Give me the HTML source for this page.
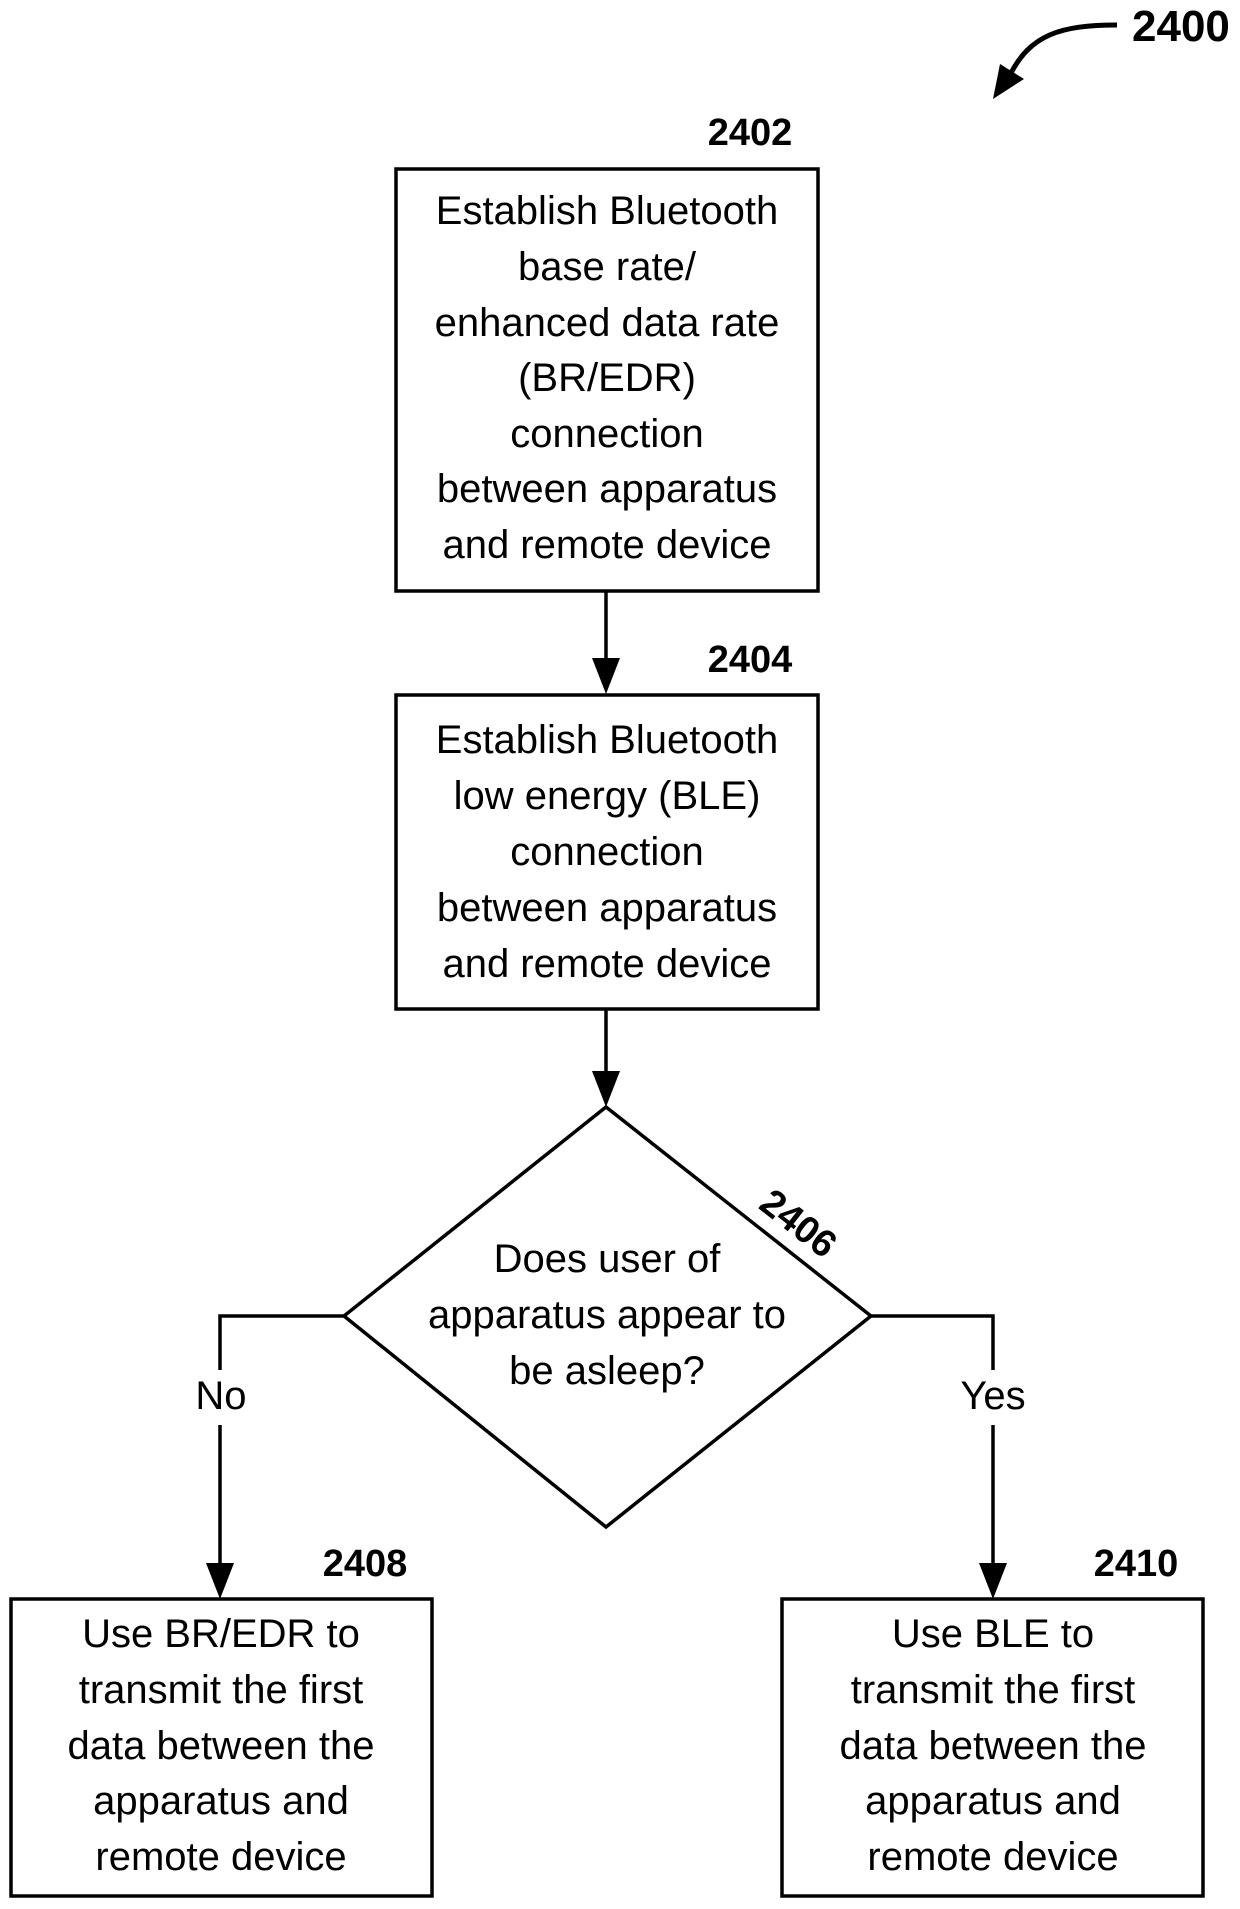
<!DOCTYPE html>
<html><head><meta charset="utf-8"><style>
html,body{margin:0;padding:0;background:#fff;}
svg{display:block;}
text{font-family:"Liberation Sans",sans-serif;fill:#000;}
.t{font-size:40px;text-anchor:middle;}
.b{font-size:38px;font-weight:bold;text-anchor:middle;}
</style></head><body>
<svg width="1240" height="1909" viewBox="0 0 1240 1909" xmlns="http://www.w3.org/2000/svg">
<defs><marker id="ah" markerWidth="10" markerHeight="10" refX="9" refY="5" orient="auto" markerUnits="userSpaceOnUse" viewBox="0 0 10 10"><path d="M0,0 L10,5 L0,10 z" fill="#000"/></marker></defs>
<g fill="none" stroke="#000" stroke-width="3.5">
<rect x="396" y="169" width="422" height="422"/>
<rect x="396" y="695" width="422" height="314"/>
<polygon points="606,1107 871,1316 606,1527 344,1316"/>
<rect x="11" y="1599" width="421" height="297"/>
<rect x="782" y="1599" width="421" height="297"/>
<line x1="606" y1="592" x2="606" y2="660"/>
<line x1="606" y1="1010" x2="606" y2="1073"/>
<polyline points="344,1316 220,1316 220,1370"/>
<line x1="220" y1="1425" x2="220" y2="1565"/>
<polyline points="871,1316 993,1316 993,1370"/>
<line x1="993" y1="1425" x2="993" y2="1565"/>
<path d="M1117,25 C1060,25 1030,35 1010,75" stroke-width="5"/>
</g>
<g fill="#000">
<polygon points="592,658 620,658 606,694"/>
<polygon points="592,1071 620,1071 606,1107"/>
<polygon points="206,1563 234,1563 220,1599"/>
<polygon points="979,1563 1007,1563 993,1599"/>
<polygon points="993,99 1000,64 1024,79"/>
</g>
<text class="b" x="750" y="145">2402</text>
<text class="b" x="750" y="672">2404</text>
<text class="b" x="365" y="1576">2408</text>
<text class="b" x="1136" y="1576">2410</text>
<text x="1132" y="41" style="font-size:44px;font-weight:bold;">2400</text>
<text class="b" transform="translate(798,1224) rotate(38)" y="12">2406</text>
<g class="t">
<text class="t" x="607" y="224">Establish Bluetooth</text>
<text class="t" x="607" y="280">base rate/</text>
<text class="t" x="607" y="336">enhanced data rate</text>
<text class="t" x="607" y="391">(BR/EDR)</text>
<text class="t" x="607" y="447">connection</text>
<text class="t" x="607" y="502">between apparatus</text>
<text class="t" x="607" y="558">and remote device</text>
<text class="t" x="607" y="753">Establish Bluetooth</text>
<text class="t" x="607" y="809">low energy (BLE)</text>
<text class="t" x="607" y="865">connection</text>
<text class="t" x="607" y="921">between apparatus</text>
<text class="t" x="607" y="977">and remote device</text>
<text class="t" x="607" y="1272">Does user of</text>
<text class="t" x="607" y="1328">apparatus appear to</text>
<text class="t" x="607" y="1384">be asleep?</text>
<text class="t" x="221" y="1409">No</text>
<text class="t" x="993" y="1409">Yes</text>
<text class="t" x="221" y="1647">Use BR/EDR to</text>
<text class="t" x="221" y="1703">transmit the first</text>
<text class="t" x="221" y="1759">data between the</text>
<text class="t" x="221" y="1814">apparatus and</text>
<text class="t" x="221" y="1870">remote device</text>
<text class="t" x="993" y="1647">Use BLE to</text>
<text class="t" x="993" y="1703">transmit the first</text>
<text class="t" x="993" y="1759">data between the</text>
<text class="t" x="993" y="1814">apparatus and</text>
<text class="t" x="993" y="1870">remote device</text>
</g>
</svg>
</body></html>
